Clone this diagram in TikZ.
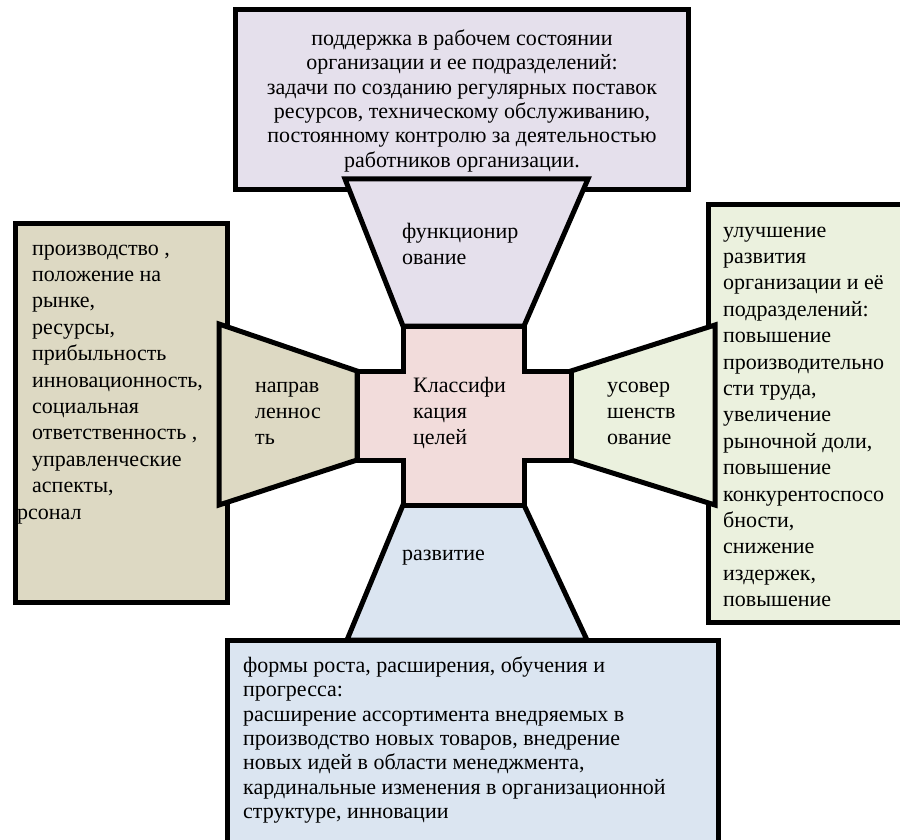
\documentclass[tikz,border=0pt]{standalone}
\usepackage{fontspec}
\setmainfont{Liberation Serif}
\definecolor{cpurple}{HTML}{E5E0EC}
\definecolor{ctan}{HTML}{DDD9C3}
\definecolor{cgreen}{HTML}{EBF1DE}
\definecolor{cblue}{HTML}{DBE5F1}
\definecolor{cpink}{HTML}{F2DCDB}
\newcommand\fsA{\fontsize{22}{24.4}\selectfont}
\newcommand\fsB{\fontsize{22}{26.4}\selectfont}
\tikzset{
  shapeline/.style={draw=black, line width=5pt},
  txtA/.style={inner sep=0pt, font=\fsA},
  txtB/.style={inner sep=0pt, font=\fsB, align=left, anchor=north west},
}
\begin{document}
\begin{tikzpicture}[x=1pt,y=-1pt]
\useasboundingbox (0,0) rectangle (900,840);
\fill[white] (0,0) rectangle (900,840);
\clip (0,0) rectangle (900,840);
% outer boxes
\draw[shapeline, fill=cpurple] (235,10) rectangle (688,190);
\draw[shapeline, fill=ctan] (15,223) rectangle (227,602);
\draw[shapeline, fill=cgreen] (708,204) rectangle (910,622);
% trapezoids
\draw[shapeline, fill=cpurple] (345,179) -- (588,179) -- (524,326) -- (403,326) -- cycle;
\draw[shapeline, fill=ctan] (219,324) -- (357,371) -- (357,460) -- (219,505) -- cycle;
\draw[shapeline, fill=cgreen] (715,325) -- (571,371) -- (571,460) -- (715,505) -- cycle;
\draw[shapeline, fill=cblue] (403,505) -- (524,505) -- (587,640) -- (347,640) -- cycle;
\draw[shapeline, fill=cblue] (227,640) rectangle (718,842);
% center cross
\draw[shapeline, fill=cpink] (403,326) -- (524,326) -- (524,371) -- (571,371) -- (571,460)
  -- (524,460) -- (524,505) -- (403,505) -- (403,460) -- (357,460) -- (357,371) -- (403,371) -- cycle;
% texts
\node[txtA, align=center, anchor=north] (ttop) at (462,28) {\strut поддержка в рабочем состоянии\\
организации и ее подразделений:\\
задачи по созданию регулярных поставок\\
ресурсов, техническому обслуживанию,\\
постоянному контролю за деятельностью\\
работников организации.};
\node[txtB] (tfunc) at (402,219.5) {\strut функционир\\ование};
\node[txtB] (tnapr) at (255,373.5) {\strut направ\\леннос\\ть};
\node[txtB] (tclass) at (413,373.5) {\strut Классифи\\кация\\целей};
\node[txtB] (tusov) at (607,373.5) {\strut усовер\\шенств\\ование};
\node[txtB] (trazv) at (402,541.5) {\strut развитие};
\node[txtB] (tleft) at (17,236.5) {\strut\hspace*{15pt}производство ,\\
\hspace*{15pt}положение на\\
\hspace*{15pt}рынке,\\
\hspace*{15pt}ресурсы,\\
\hspace*{15pt}прибыльность\\
\hspace*{15pt}инновационность,\\
\hspace*{15pt}социальная\\
\hspace*{15pt}ответственность ,\\
\hspace*{15pt}управленческие\\
\hspace*{15pt}аспекты,\\
рсонал};
\node[txtB] (tright) at (723,218.5) {\strut улучшение\\
развития\\
организации и её\\
подразделений:\\
повышение\\
производительно\\
сти труда,\\
увеличение\\
рыночной доли,\\
повышение\\
конкурентоспосо\\
бности,\\
снижение\\
издержек,\\
повышение};
\node[txtA, align=left, anchor=north west] (tbottom) at (243,655) {\strut формы роста, расширения, обучения и\\
прогресса:\\
расширение ассортимента внедряемых в\\
производство новых товаров, внедрение\\
новых идей в области менеджмента,\\
кардинальные изменения в организационной\\
структуре, инновации};
\end{tikzpicture}
\end{document}
